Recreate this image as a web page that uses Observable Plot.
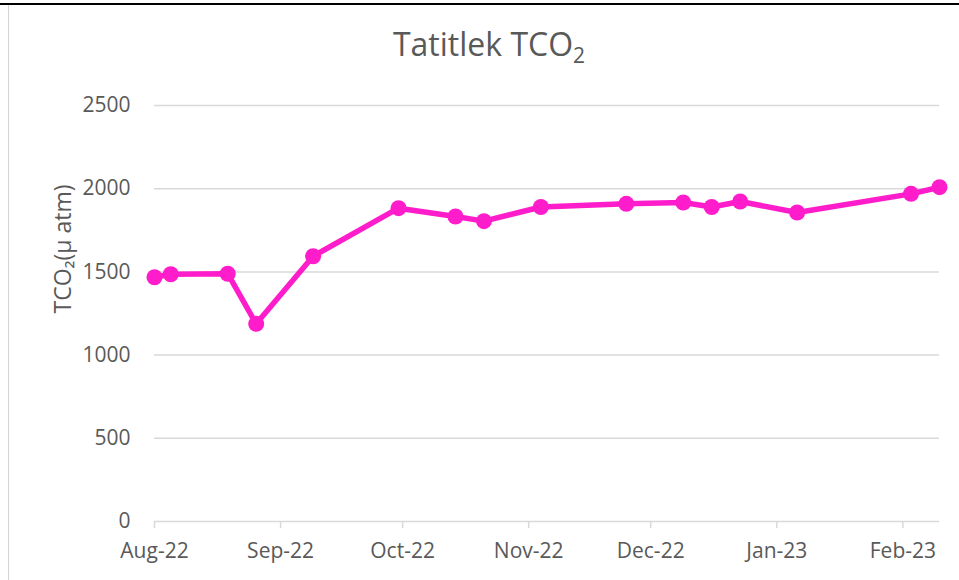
<!DOCTYPE html>
<html>
<head>
<meta charset="utf-8">
<script src="https://cdn.jsdelivr.net/npm/d3@7"></script>
<script src="https://cdn.jsdelivr.net/npm/@observablehq/plot@0.6"></script>
<style>
  html, body { margin: 0; padding: 0; background: #fff; }
  #wrap { position: relative; width: 959px; height: 580px; overflow: hidden; font-family: "Open Sans", sans-serif; }
  #topline { position: absolute; left: 0; top: 3px; width: 959px; height: 2px; background: #000; }
  #leftline { position: absolute; left: 8px; top: 5px; width: 1px; height: 580px; background: #d4d4d4; }
  #title { position: absolute; left: 0; top: 25px; width: 978px; text-align: center; font-size: 32px; color: #595959; line-height: 1.2; }
  #title sub { font-size: 21px; vertical-align: -7px; line-height: 0; }
  #chart { position: absolute; left: 0; top: 0; }
</style>
</head>
<body>
<div id="wrap">
  <div id="topline"></div>
  <div id="leftline"></div>
  <div id="chart"></div>
  <div id="title">Tatitlek TCO<sub>2</sub></div>
</div>
<script>
const dates = ["2022-08-01","2022-08-05","2022-08-19","2022-08-26","2022-09-09","2022-09-30","2022-10-14","2022-10-21","2022-11-04","2022-11-25","2022-12-09","2022-12-16","2022-12-23","2023-01-06","2023-02-03","2023-02-10"];
const values = [1468,1486,1489,1188,1594,1883,1833,1805,1890,1909,1917,1890,1923,1857,1969,2009];
const yTicks = [0,500,1000,1500,2000,2500];
const monthTicks = ["2022-08-01","2022-09-01","2022-10-01","2022-11-01","2022-12-01","2023-01-01","2023-02-01"];
const xDomain = ["2022-08-01","2023-02-10"];
const yLabel = "TCO₂(μ atm)";

const parse = d3.utcParse("%Y-%m-%d");
const data = dates.map((d, i) => ({date: parse(d), value: values[i]}));
const pink = "#ff1ccb";

const chart = Plot.plot({
  width: 959,
  height: 580,
  marginTop: 105,
  marginBottom: 59,
  marginLeft: 154,
  marginRight: 20,
  style: {fontFamily: "'Open Sans', sans-serif", fontSize: "21px", color: "#595959", background: "transparent", overflow: "visible"},
  x: {type: "utc", domain: xDomain.map(parse)},
  y: {domain: [0, 2500]},
  marks: [
    Plot.gridY(yTicks, {stroke: "#d9d9d9", strokeOpacity: 1, strokeWidth: 1.5}),
    Plot.axisY(yTicks, {tickSize: 0, tickPadding: 24, fill: "#595959", fontSize: 21, tickFormat: d => String(d), label: null}),
    Plot.axisX(monthTicks.map(parse), {tickSize: 7, tickPadding: 15, stroke: "#d9d9d9", strokeWidth: 1.5, fill: "#595959", fontSize: 21, tickFormat: d3.utcFormat("%b-%y"), label: null}),
    Plot.text([yLabel], {frameAnchor: "left", dx: -91, rotate: -90, fontSize: 23, fill: "#595959", text: d => d}),
    Plot.line(data, {x: "date", y: "value", stroke: pink, strokeWidth: 5.5, curve: "linear"}),
    Plot.dot(data, {x: "date", y: "value", r: 8, fill: pink, stroke: "none"})
  ]
});
document.getElementById("chart").appendChild(chart);
</script>
</body>
</html>
